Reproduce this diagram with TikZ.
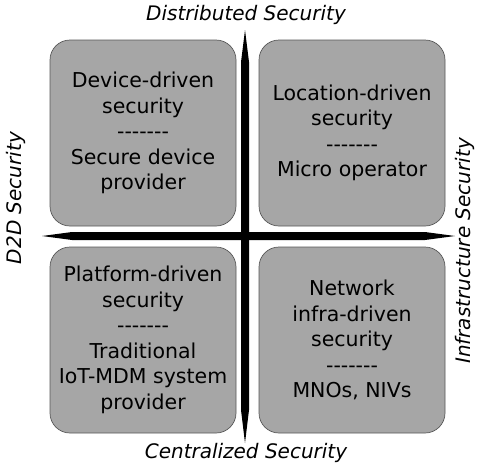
\documentclass[tikz,border=0pt]{standalone}
\usepackage{fontspec}
\setmainfont{DejaVu Sans}
\newcommand{\sevendash}{-{}-{}-{}-{}-{}-{}-}
\begin{document}
\begin{tikzpicture}[x=1pt,y=-1pt,
  quad/.style={draw=black!65, line width=0.7pt, fill=black!35, rounded corners=20pt,
    minimum width=186pt, minimum height=186pt, align=center, inner sep=0pt,
    font=\fontsize{20.5}{25.5}\selectfont},
  axislabel/.style={font=\fontsize{20}{22}\selectfont\itshape, inner sep=0pt}]
\useasboundingbox[fill=white] (0,0) rectangle (477,467);
% boxes
\node[quad] (tl) at (143,133) {Device-driven\\security\\\sevendash\\Secure device\\provider};
\node[quad] (tr) at (352,133) {Location-driven\\security\\\sevendash\\Micro operator};
\node[quad] (bl) at (143,340) {Platform-driven\\security\\\sevendash\\Traditional\\IoT-MDM system\\provider};
\node[quad] (br) at (352,340) {Network\\infra-driven\\security\\\sevendash\\MNOs, NIVs};
% axes
\fill[black] (245,30) -- (249,62) -- (249,410) -- (245,443) -- (241,410) -- (241,62) -- cycle;
\fill[black] (42,236) -- (72,232) -- (425,232) -- (455,236) -- (425,240) -- (72,240) -- cycle;
% labels
\node[axislabel] (top) at (246,15) {Distributed Security};
\node[axislabel] (bot) at (246,453) {Centralized Security};
\node[axislabel, rotate=90] (left) at (16,198) {D2D Security};
\node[axislabel, rotate=90] (right) at (465,251) {Infrastructure Security};
\end{tikzpicture}
\end{document}
